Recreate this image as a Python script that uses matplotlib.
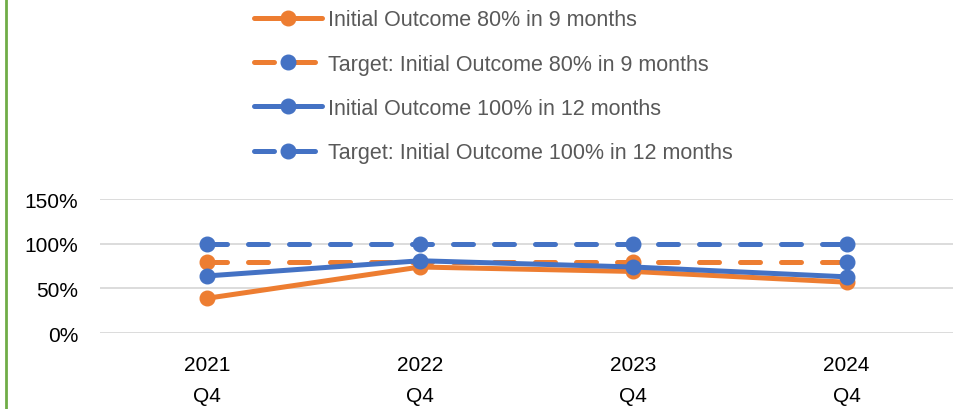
import matplotlib.pyplot as plt
from matplotlib.lines import Line2D

plt.rcParams['font.family'] = ['Liberation Sans', 'DejaVu Sans']

# 数据
quarters = ['2021\nQ4', '2022\nQ4', '2023\nQ4', '2024\nQ4']
outcome_80 = [39, 74, 69, 57]
target_80 = [80, 80, 80, 80]
outcome_100 = [64, 81, 74, 63]
target_100 = [100, 100, 100, 100]
y_ticks = [0, 50, 100, 150]
labels = ['Initial Outcome 80% in 9 months',
          'Target: Initial Outcome 80% in 9 months',
          'Initial Outcome 100% in 12 months',
          'Target: Initial Outcome 100% in 12 months']

orange = '#ED7D31'
blue = '#4472C4'

fig = plt.figure(figsize=(9.56, 4.10), dpi=100)
ax = fig.add_axes([0.105, 0.185, 0.892, 0.327])
x = list(range(len(quarters)))

lw = 3.6
ms = 10.5
dash = (0, (4, 4.2))
ax.plot(x, outcome_80, color=orange, lw=lw, marker='o', ms=ms,
        solid_capstyle='round', zorder=3)
ax.plot(x, target_80, color=orange, lw=lw, ls=dash,
        dash_capstyle='round', zorder=3)
ax.plot(x[:3], target_80[:3], ls='none', marker='o', ms=ms, color=orange, zorder=3)
ax.plot(x[3:], target_80[3:], ls='none', marker='o', ms=ms, color=blue, zorder=3)
ax.plot(x, outcome_100, color=blue, lw=lw, marker='o', ms=ms,
        solid_capstyle='round', zorder=4)
ax.plot(x, target_100, color=blue, lw=lw, marker='o', ms=ms, ls=dash,
        dash_capstyle='round', zorder=4)

ax.set_xlim(-0.5, 3.5)
ax.set_ylim(0, 150)
ax.set_yticks(y_ticks)
ax.set_yticklabels([f'{v}%' for v in y_ticks])
ax.set_xticks(x)
ax.set_xticklabels(quarters, linespacing=1.75)
ax.tick_params(length=0, labelsize=15, colors='black')
ax.tick_params(axis='y', pad=16)
ax.tick_params(axis='x', pad=16)
ax.grid(axis='y', color='#D9D9D9', lw=1.3, zorder=0)
for s in ax.spines.values():
    s.set_visible(False)

handles = [
    Line2D([], [], color=orange, lw=lw, marker='o', ms=ms, solid_capstyle='round'),
    Line2D([], [], color=orange, lw=lw, ls=dash, dash_capstyle='round', marker='o',
           ms=ms, markerfacecolor=blue, markeredgecolor=blue),
    Line2D([], [], color=blue, lw=lw, marker='o', ms=ms, solid_capstyle='round'),
    Line2D([], [], color=blue, lw=lw, ls=dash, dash_capstyle='round', marker='o', ms=ms),
]
fig.legend(handles, labels, loc='upper left', bbox_to_anchor=(0.245, 1.022),
           frameon=False, fontsize=15.5, labelcolor='#595959',
           handlelength=3.2, handletextpad=0.25, labelspacing=1.08)

# 左侧绿色边线
fig.add_artist(Line2D([0.0065, 0.0065], [0, 1], transform=fig.transFigure,
                      color='#70AD47', lw=2))

fig.savefig('out.png', dpi=100)
